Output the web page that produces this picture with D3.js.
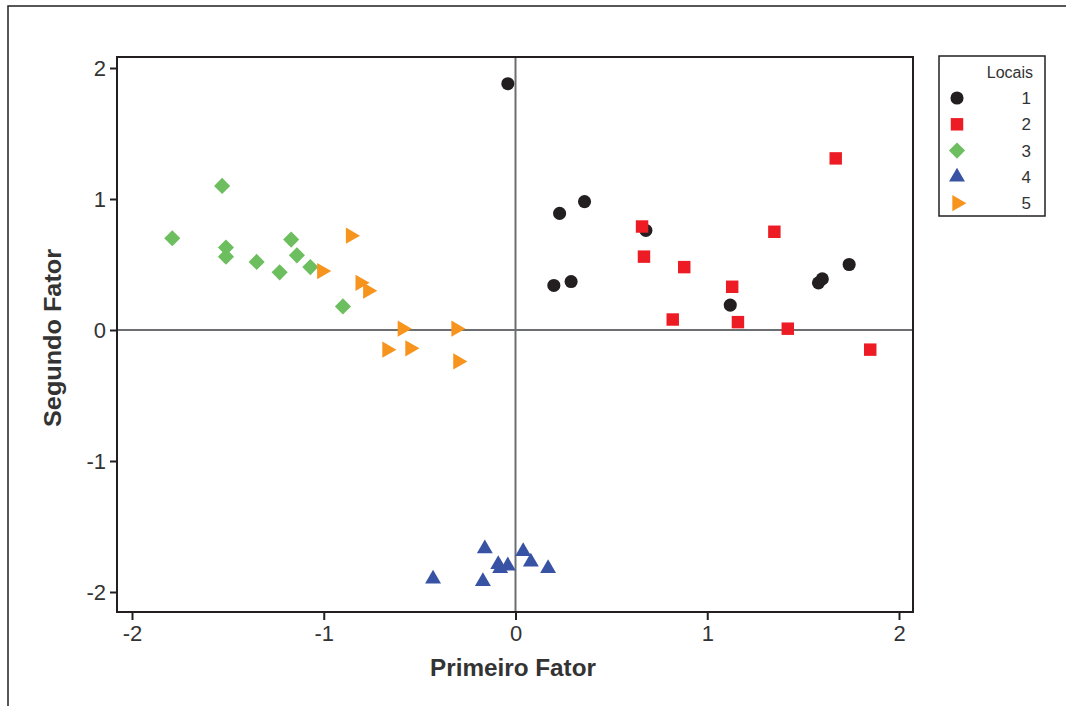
<!DOCTYPE html>
<html>
<head>
<meta charset="utf-8">
<script src="https://cdn.jsdelivr.net/npm/d3@7"></script>
<style>
  html, body { margin: 0; padding: 0; background: #fff; }
  svg { display: block; }
</style>
</head>
<body>
<div id="chart"></div>
<script>
// Local groups (Locais) and the two factor scores
const locais = ['1', '2', '3', '4', '5'];

const local1X = [-0.04, 0.23, 0.36, 0.20, 0.29, 0.68, 1.12, 1.58, 1.60, 1.74];
const local1Y = [1.88, 0.89, 0.98, 0.34, 0.37, 0.76, 0.19, 0.36, 0.39, 0.50];

const local2X = [0.66, 0.67, 0.88, 0.82, 1.13, 1.16, 1.35, 1.42, 1.67, 1.85];
const local2Y = [0.79, 0.56, 0.48, 0.08, 0.33, 0.06, 0.75, 0.01, 1.31, -0.15];

const local3X = [-1.53, -1.79, -1.51, -1.51, -1.35, -1.23, -1.17, -1.14, -1.07, -0.90];
const local3Y = [1.10, 0.70, 0.63, 0.56, 0.52, 0.44, 0.69, 0.57, 0.48, 0.18];

const local4X = [-0.16, -0.43, -0.17, -0.09, -0.08, -0.04, 0.04, 0.08, 0.17];
const local4Y = [-1.67, -1.90, -1.92, -1.79, -1.82, -1.80, -1.69, -1.77, -1.82];

const local5X = [-0.86, -1.01, -0.81, -0.77, -0.59, -0.31, -0.67, -0.55, -0.30];
const local5Y = [0.72, 0.45, 0.36, 0.30, 0.01, 0.01, -0.15, -0.14, -0.24];

const xTicks = [-2, -1, 0, 1, 2];
const yTicks = [-2, -1, 0, 1, 2];

const groupX = [local1X, local2X, local3X, local4X, local5X];
const groupY = [local1Y, local2Y, local3Y, local4Y, local5Y];

const points = locais.flatMap((loc, g) =>
  groupX[g].map((x, i) => ({ local: loc, x, y: groupY[g][i] })),
);

const width = 1066;
const height = 706;
const plot = { left: 117, right: 913, top: 57, bottom: 612 };
const axisColor = '#231f20';
const tickFont = '"Liberation Sans", Arial, sans-serif';

const svg = d3
  .select('#chart')
  .append('svg')
  .attr('width', width)
  .attr('height', height);

// Outer frame (only left and top edges fall inside the picture)
svg
  .append('rect')
  .attr('x', 8)
  .attr('y', 6)
  .attr('width', width + 20)
  .attr('height', height + 20)
  .attr('fill', 'none')
  .attr('stroke', axisColor)
  .attr('stroke-width', 1.5);

const xscale = d3.scaleLinear().domain([-2, 2]).range([132, 899]);
const yscale = d3.scaleLinear().domain([-2, 2]).range([592, 68]);

// Reference lines through 0
svg
  .append('line')
  .attr('x1', plot.left)
  .attr('x2', plot.right)
  .attr('y1', yscale(0))
  .attr('y2', yscale(0))
  .attr('stroke', '#6d6e71')
  .attr('stroke-width', 2);

svg
  .append('line')
  .attr('x1', xscale(0))
  .attr('x2', xscale(0))
  .attr('y1', plot.top)
  .attr('y2', plot.bottom)
  .attr('stroke', '#6d6e71')
  .attr('stroke-width', 2);

// Axes
const xAxis = d3.axisBottom(xscale).tickValues(xTicks).tickSize(8).tickPadding(5);
const yAxis = d3.axisLeft(yscale).tickValues(yTicks).tickSize(7).tickPadding(4);

const gx = svg
  .append('g')
  .attr('transform', `translate(0, ${plot.bottom})`)
  .call(xAxis);
const gy = svg
  .append('g')
  .attr('transform', `translate(${plot.left}, 0)`)
  .call(yAxis);

[gx, gy].forEach((g) => {
  g.select('.domain').remove();
  g.selectAll('line').attr('stroke', axisColor).attr('stroke-width', 2);
  g.selectAll('text')
    .attr('fill', '#333')
    .style('font-family', tickFont)
    .style('font-size', '22px')
    .text((d) => String(d).replace('−', '-'));
});

// Plot frame
svg
  .append('rect')
  .attr('x', plot.left)
  .attr('y', plot.top)
  .attr('width', plot.right - plot.left)
  .attr('height', plot.bottom - plot.top)
  .attr('fill', 'none')
  .attr('stroke', axisColor)
  .attr('stroke-width', 2);

// Marker styles per local
const colors = d3
  .scaleOrdinal()
  .domain(locais)
  .range(['#231f20', '#ed1c24', '#6dbe5f', '#3953a4', '#f7941d']);

const symbolFor = {
  1: { type: d3.symbolCircle, size: 135, rotate: 0 },
  2: { type: d3.symbolSquare, size: 155, rotate: 0 },
  3: { type: d3.symbolSquare, size: 130, rotate: 45 },
  4: { type: d3.symbolTriangle, size: 110, rotate: 0 },
  5: { type: d3.symbolTriangle, size: 115, rotate: 90 },
};

const symbolPath = (loc) =>
  d3.symbol().type(symbolFor[loc].type).size(symbolFor[loc].size)();

svg
  .append('g')
  .selectAll('path')
  .data(points)
  .enter()
  .append('path')
  .attr('d', (d) => symbolPath(d.local))
  .attr(
    'transform',
    (d) =>
      `translate(${xscale(d.x)}, ${yscale(d.y)}) rotate(${symbolFor[d.local].rotate})`,
  )
  .attr('fill', (d) => colors(d.local));

// Axis titles
svg
  .append('text')
  .text('Primeiro Fator')
  .attr('x', 513)
  .attr('y', 676)
  .attr('text-anchor', 'middle')
  .attr('textLength', 166)
  .attr('lengthAdjust', 'spacingAndGlyphs')
  .attr('fill', '#333')
  .style('font-family', tickFont)
  .style('font-size', '24px')
  .style('font-weight', 600);

svg
  .append('text')
  .text('Segundo Fator')
  .attr('transform', 'translate(61, 338) rotate(-90)')
  .attr('text-anchor', 'middle')
  .attr('textLength', 178)
  .attr('lengthAdjust', 'spacingAndGlyphs')
  .attr('fill', '#333')
  .style('font-family', tickFont)
  .style('font-size', '24px')
  .style('font-weight', 600);

// Legend
const legend = svg.append('g').attr('transform', 'translate(939, 56)');

legend
  .append('rect')
  .attr('width', 106)
  .attr('height', 160)
  .attr('fill', '#fff')
  .attr('stroke', axisColor)
  .attr('stroke-width', 1.5);

legend
  .append('text')
  .text('Locais')
  .attr('x', 94)
  .attr('y', 22)
  .attr('text-anchor', 'end')
  .attr('fill', '#333')
  .style('font-family', tickFont)
  .style('font-size', '16px');

const rows = legend
  .selectAll('g.row')
  .data(locais)
  .enter()
  .append('g')
  .attr('class', 'row')
  .attr('transform', (d, i) => `translate(0, ${42 + i * 26.3})`);

rows
  .append('path')
  .attr('d', (d) => symbolPath(d))
  .attr('transform', (d) => `translate(18, 0) rotate(${symbolFor[d].rotate})`)
  .attr('fill', (d) => colors(d));

rows
  .append('text')
  .text((d) => d)
  .attr('x', 92)
  .attr('y', 6)
  .attr('text-anchor', 'end')
  .attr('fill', '#333')
  .style('font-family', tickFont)
  .style('font-size', '17px');
</script>
</body>
</html>
